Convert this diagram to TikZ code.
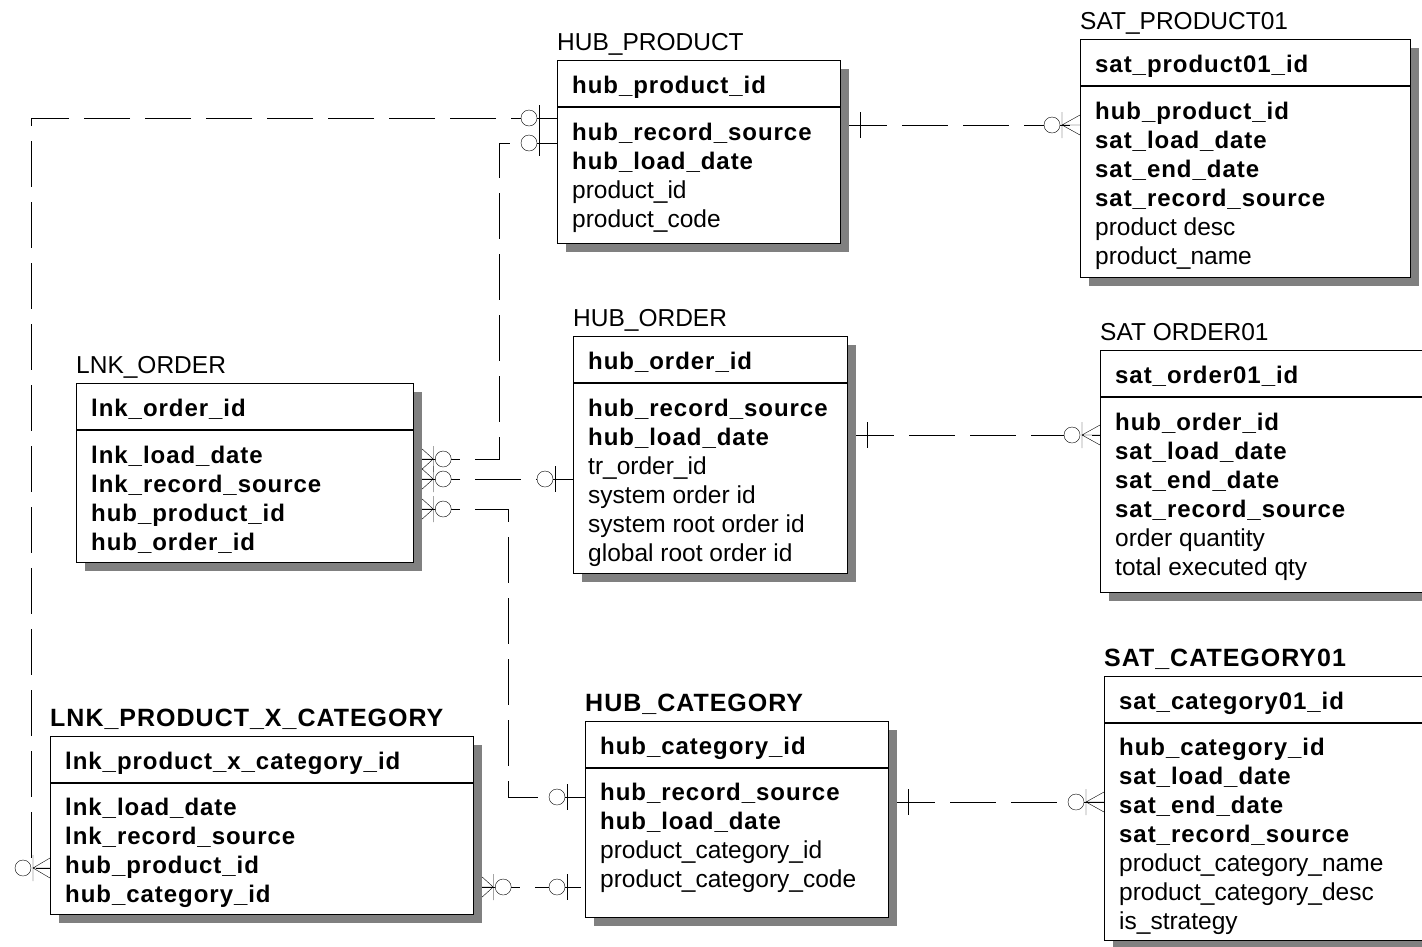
\documentclass[tikz,border=0pt]{standalone}
\usepackage{fontspec}
\setmainfont{Liberation Sans}[BoldFeatures={LetterSpace=4}]
\usetikzlibrary{shadows, backgrounds}

\tikzset{
  entity/.style={draw=black, line width=1.2pt, fill=white, anchor=north west,
    inner sep=0pt,
    drop shadow={shadow xshift=8pt, shadow yshift=-8pt, fill=black!50, opacity=1}},
  title/.style={anchor=base west, inner sep=0pt},
  btitle/.style={anchor=base west, inner sep=0pt, font=\fontsize{25}{30}\selectfont\bfseries},
  key/.style={anchor=base west, inner sep=0pt, font=\fontsize{24}{29}\selectfont\bfseries},
  attr/.style={anchor=base west, inner sep=0pt},
  rel/.style={dash pattern=on 46pt off 15pt},
  % relationship ends
  pics/onebar/.style={code={\draw (11,-13) -- (11,13);}},
  pics/zone/.style={code={
    \draw (18,-13) -- (18,13);
    \draw[fill=white] (28,0) circle (8);}},
  pics/zmany/.style={code={
    \draw (0,-10) -- (#1,0) -- (0,10) (0,0) -- (#1,0) (#1,-13) -- (#1,13);
    \draw[fill=white] (#1+10,0) circle (8);}},
  pics/zmany/.default=18
}

\begin{document}
\begin{tikzpicture}[x=1pt, y=-1pt, font=\fontsize{24.5}{29}\selectfont]

  \useasboundingbox (0,0) rectangle (1422,946);
  \clip (0,0) rectangle (1422,946);

  % entities
  \node[entity, minimum width=283pt, minimum height=183pt] (hubprod) at (557,60) {};
  \node[entity, minimum width=330pt, minimum height=238pt] (satprod) at (1080,39) {};
  \node[entity, minimum width=274pt, minimum height=237pt] (hubord) at (573,336) {};
  \node[entity, minimum width=350pt, minimum height=242pt] (satord) at (1100,350) {};
  \node[entity, minimum width=337pt, minimum height=179pt] (lnkord) at (76,383) {};
  \node[entity, minimum width=423pt, minimum height=178pt] (lnkpxc) at (50,736) {};
  \node[entity, minimum width=303pt, minimum height=196pt] (hubcat) at (585,721) {};
  \node[entity, minimum width=346pt, minimum height=264pt] (satcat) at (1104,676) {};

  \foreach \e in {hubprod, satprod, hubord, satord, lnkord, lnkpxc, hubcat, satcat}
    \draw[line width=1.2pt] ([yshift=-47pt]\e.north west) -- ([yshift=-47pt]\e.north east);

  % HUB_PRODUCT
  \node[title] (hubprod-t) at (557,50) {HUB\_PRODUCT};
  \node[key] (hubprod-h) at (572,93) {hub\_product\_id};
  \foreach \r [count=\i from 0] in {hub\_record\_source, hub\_load\_date}
    \node[key] (hubprod-k\i) at (572,{140+29*\i}) {\r};
  \foreach \r [count=\i from 2] in {product\_id, product\_code}
    \node[attr] (hubprod-a\i) at (572,{140+29*\i}) {\r};

  % SAT_PRODUCT01
  \node[title] (satprod-t) at (1080,29) {SAT\_PRODUCT01};
  \node[key] (satprod-h) at (1095,72) {sat\_product01\_id};
  \foreach \r [count=\i from 0] in {hub\_product\_id, sat\_load\_date, sat\_end\_date, sat\_record\_source}
    \node[key] (satprod-k\i) at (1095,{119+29*\i}) {\r};
  \foreach \r [count=\i from 4] in {product desc, product\_name}
    \node[attr] (satprod-a\i) at (1095,{119+29*\i}) {\r};

  % HUB_ORDER
  \node[title] (hubord-t) at (573,326) {HUB\_ORDER};
  \node[key] (hubord-h) at (588,369) {hub\_order\_id};
  \foreach \r [count=\i from 0] in {hub\_record\_source, hub\_load\_date}
    \node[key] (hubord-k\i) at (588,{416+29*\i}) {\r};
  \foreach \r [count=\i from 2] in {tr\_order\_id, system order id, system root order id, global root order id}
    \node[attr] (hubord-a\i) at (588,{416+29*\i}) {\r};

  % SAT ORDER01
  \node[title] (satord-t) at (1100,340) {SAT ORDER01};
  \node[key] (satord-h) at (1115,383) {sat\_order01\_id};
  \foreach \r [count=\i from 0] in {hub\_order\_id, sat\_load\_date, sat\_end\_date, sat\_record\_source}
    \node[key] (satord-k\i) at (1115,{430+29*\i}) {\r};
  \foreach \r [count=\i from 4] in {order quantity, total executed qty}
    \node[attr] (satord-a\i) at (1115,{430+29*\i}) {\r};

  % LNK_ORDER
  \node[title] (lnkord-t) at (76,373) {LNK\_ORDER};
  \node[key] (lnkord-h) at (91,416) {lnk\_order\_id};
  \foreach \r [count=\i from 0] in {lnk\_load\_date, lnk\_record\_source, hub\_product\_id, hub\_order\_id}
    \node[key] (lnkord-k\i) at (91,{463+29*\i}) {\r};

  % LNK_PRODUCT_X_CATEGORY
  \node[btitle] (lnkpxc-t) at (50,726) {LNK\_PRODUCT\_X\_CATEGORY};
  \node[key] (lnkpxc-h) at (65,769) {lnk\_product\_x\_category\_id};
  \foreach \r [count=\i from 0] in {lnk\_load\_date, lnk\_record\_source, hub\_product\_id, hub\_category\_id}
    \node[key] (lnkpxc-k\i) at (65,{815+29*\i}) {\r};

  % HUB_CATEGORY
  \node[btitle] (hubcat-t) at (585,711) {HUB\_CATEGORY};
  \node[key] (hubcat-h) at (600,754) {hub\_category\_id};
  \foreach \r [count=\i from 0] in {hub\_record\_source, hub\_load\_date}
    \node[key] (hubcat-k\i) at (600,{800+29*\i}) {\r};
  \foreach \r [count=\i from 2] in {product\_category\_id, product\_category\_code}
    \node[attr] (hubcat-a\i) at (600,{800+29*\i}) {\r};

  % SAT_CATEGORY01
  \node[btitle] (satcat-t) at (1104,666) {SAT\_CATEGORY01};
  \node[key] (satcat-h) at (1119,709) {sat\_category01\_id};
  \foreach \r [count=\i from 0] in {hub\_category\_id, sat\_load\_date, sat\_end\_date, sat\_record\_source}
    \node[key] (satcat-k\i) at (1119,{755+29*\i}) {\r};
  \foreach \r [count=\i from 4] in {product\_category\_name, product\_category\_desc, is\_strategy}
    \node[attr] (satcat-a\i) at (1119,{755+29*\i}) {\r};

  % relationships
  \begin{scope}[on background layer, black!75, line width=1.2pt]
    \draw[rel] (hubprod.east |- 0,125) -- (satprod.west |- 0,125);
    \draw[rel] (hubord.east |- 0,435) -- (satord.west |- 0,435);
    \draw[rel] (hubcat.east |- 0,802) -- (satcat.west |- 0,802);
    \draw[rel] (lnkord.east |- 0,459) -| (499,143) -- (hubprod.west |- 0,143);
    \draw[rel] (lnkord.east |- 0,479) -- (hubord.west |- 0,479);
    \draw[rel] (lnkord.east |- 0,509) -| (508,797) -- (hubcat.west |- 0,797);
    \draw[rel] (hubprod.west |- 0,118) -| (31,868) -- (lnkpxc.west |- 0,868);
    \draw[rel] (lnkpxc.east |- 0,887) -- (hubcat.west |- 0,887);

    \pic[xshift=8pt] at (hubprod.east |- 0,125) {onebar};
    \pic[xshift=8pt] at (hubord.east |- 0,435) {onebar};
    \pic[xshift=8pt] at (hubcat.east |- 0,802) {onebar};
    \pic[xscale=-1] at (satprod.west |- 0,125) {zmany};
    \pic[xscale=-1] at (satord.west |- 0,435) {zmany};
    \pic[xscale=-1] at (satcat.west |- 0,802) {zmany};
    \pic[xscale=-1] at (hubprod.west |- 0,118) {zone};
    \pic[xscale=-1] at (hubprod.west |- 0,143) {zone};
    \pic[xscale=-1] at (hubord.west |- 0,479) {zone};
    \pic[xscale=-1] at (hubcat.west |- 0,797) {zone};
    \pic[xscale=-1] at (hubcat.west |- 0,887) {zone};
    \pic[xscale=-1] at (lnkpxc.west |- 0,868) {zmany=17};
    \pic[xshift=8pt] at (lnkord.east |- 0,459) {zmany=11};
    \pic[xshift=8pt] at (lnkord.east |- 0,479) {zmany=11};
    \pic[xshift=8pt] at (lnkord.east |- 0,509) {zmany=11};
    \pic[xshift=8pt] at (lnkpxc.east |- 0,887) {zmany=11};
  \end{scope}

\end{tikzpicture}
\end{document}
